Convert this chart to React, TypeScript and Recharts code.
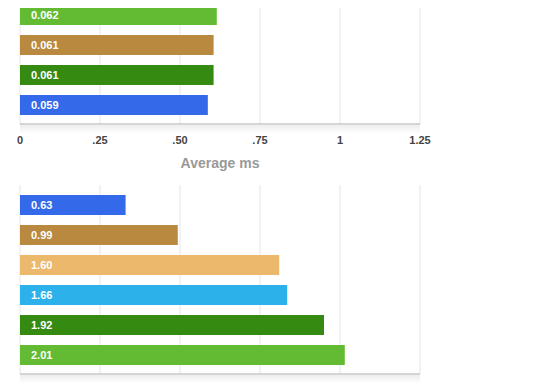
import React from 'react';
import { BarChart, Bar, XAxis, YAxis, CartesianGrid, LabelList, Cell } from 'recharts';

// top panel (cut off above the page)
const topNames = ['r1', 'r2', 'r3', 'r4'];
const topValues = [0.615, 0.605, 0.605, 0.587];
const topLabels = ['0.062', '0.061', '0.061', '0.059'];
const topColors = ['#62bb33', '#b8893f', '#358a12', '#3469ea'];
const topTicks = [0, 0.25, 0.5, 0.75, 1, 1.25];
const topTickLabels = ['0', '.25', '.50', '.75', '1', '1.25'];

// bottom panel
const bottomNames = ['s1', 's2', 's3', 's4', 's5', 's6'];
const bottomValues = [0.66, 0.986, 1.62, 1.67, 1.9, 2.03];
const bottomLabels = ['0.63', '0.99', '1.60', '1.66', '1.92', '2.01'];
const bottomColors = ['#3469ea', '#b8893f', '#ecb96c', '#2cb1ea', '#358a12', '#62bb33'];
const bottomTicks = [0, 0.5, 1, 1.5, 2, 2.5];
const bottomTickLabels = ['0', '.50', '1', '1.50', '2', '2.50'];

const FONT = '"Liberation Sans", Arial, Helvetica, sans-serif';
const BORDER = '#ababab';

type PanelProps = {
  names: string[];
  values: number[];
  labels: string[];
  colors: string[];
  ticks: number[];
  tickLabels: string[];
  height: number;
  axisHeight: number;
  title?: string;
};

const Panel: React.FC<PanelProps> = ({ names, values, labels, colors, ticks, tickLabels, height, axisHeight, title }) => {
  const data = names.map((name, i) => ({ name, value: values[i], label: labels[i] }));
  const max = ticks[ticks.length - 1];
  return (
    <BarChart
      width={560}
      height={height}
      data={data}
      layout="vertical"
      margin={{ top: 1, right: 140, bottom: 0, left: 20 }}
      style={{ fontFamily: FONT }}
    >
      <CartesianGrid horizontal={false} stroke="#e6e6e6" />
      <XAxis
        type="number"
        dataKey="value"
        domain={[0, max]}
        ticks={ticks}
        interval={0}
        tickFormatter={(v: number) => tickLabels[ticks.indexOf(v)]}
        axisLine={{ stroke: BORDER }}
        tickLine={false}
        tickMargin={6}
        height={axisHeight}
        tick={{ fill: '#444', fontSize: 11, fontWeight: 'bold' }}
        label={title ? { value: title, position: 'insideBottom', offset: 6, fill: '#999', fontSize: 14, fontWeight: 'bold' } : undefined}
      />
      <XAxis
        xAxisId="top"
        orientation="top"
        type="number"
        domain={[0, max]}
        height={0}
        tick={false}
        tickLine={false}
        axisLine={{ stroke: BORDER }}
      />
      <YAxis
        type="category"
        dataKey="name"
        width={0}
        tick={false}
        tickLine={false}
        axisLine={{ stroke: BORDER }}
        padding={{ top: 5, bottom: 4 }}
      />
      <YAxis
        yAxisId="right"
        orientation="right"
        type="category"
        dataKey="name"
        width={0}
        tick={false}
        tickLine={false}
        axisLine={{ stroke: BORDER }}
      />
      <Bar dataKey="value" barSize={20} isAnimationActive={false}>
        {data.map((d, i) => (
          <Cell key={d.name} fill={colors[i]} />
        ))}
        <LabelList dataKey="label" position="insideLeft" offset={11} fill="#fff" fontSize={11} fontWeight="bold" />
      </Bar>
    </BarChart>
  );
};

const shadow: React.CSSProperties = {
  position: 'absolute',
  left: 20,
  width: 400,
  height: 9,
  background: 'linear-gradient(rgba(0,0,0,0.07), rgba(0,0,0,0))',
};

export default function App() {
  return (
    <div style={{ position: 'relative', width: 560, height: 390, overflow: 'hidden', margin: -8, background: '#fff', fontFamily: FONT }}>
      <div style={{ ...shadow, top: 125 }} />
      <div style={{ ...shadow, top: 375 }} />
      <div style={{ position: 'absolute', left: 0, top: -6 }}>
        <Panel
          names={topNames}
          values={topValues}
          labels={topLabels}
          colors={topColors}
          ticks={topTicks}
          tickLabels={topTickLabels}
          height={180}
          axisHeight={50}
          title="Average ms"
        />
      </div>
      <div style={{ position: 'absolute', left: 0, top: 184 }}>
        <Panel
          names={bottomNames}
          values={bottomValues}
          labels={bottomLabels}
          colors={bottomColors}
          ticks={bottomTicks}
          tickLabels={bottomTickLabels}
          height={220}
          axisHeight={30}
        />
      </div>
    </div>
  );
}
